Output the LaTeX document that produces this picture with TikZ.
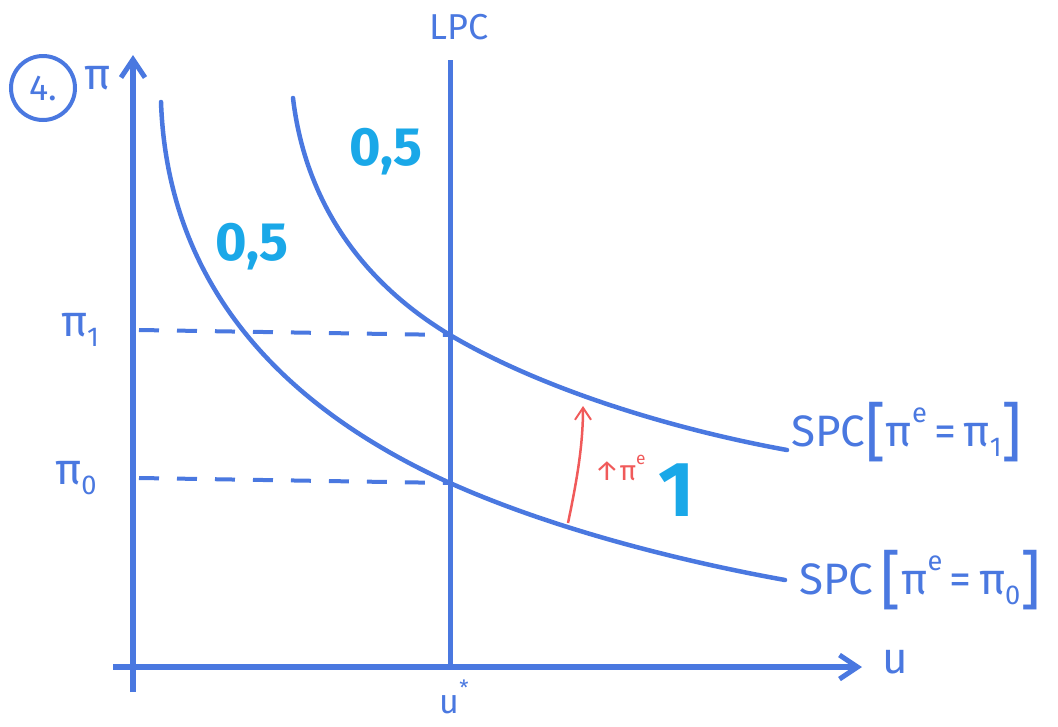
\documentclass[tikz,border=0pt]{standalone}
\usepackage{fontspec}
\setmainfont{Fira Sans}
\usepackage{xcolor}
\definecolor{pen}{HTML}{4A78E0}
\definecolor{marker}{HTML}{1AA8E8}
\definecolor{redpen}{HTML}{F05A5A}
\usepackage{tikz}
\usetikzlibrary{arrows.meta,positioning,calc}
\newcommand\lo[1]{\raisebox{-0.22em}{\scalebox{0.62}{#1}}}
\newcommand\hi[1]{\raisebox{0.55em}{\scalebox{0.62}{#1}}}
\newcommand\brk[1]{{\fontsize{64}{64}\selectfont\raisebox{-0.12em}{#1}}}

\begin{document}
\begin{tikzpicture}[
  x=1pt,y=-1pt,
  ax/.style={draw=pen,line width=6pt,-{Straight Barb[length=18pt,width=24pt,line width=5pt]}},
  crv/.style={draw=pen,line width=4.5pt,line cap=round},
  dsh/.style={draw=pen,line width=4pt,dash pattern=on 20pt off 18pt},
  lbl/.style={text=pen,font=\fontsize{44}{48}\selectfont,inner sep=1pt},
  num/.style={text=marker,font=\bfseries\fontsize{54}{58}\selectfont,inner sep=1pt},
  redarr/.style={draw=redpen,line width=2.5pt,-{Straight Barb[length=12pt,width=16pt,line width=2pt]}}
]
\useasboundingbox (0,0) rectangle (1058,726);
% axes
\coordinate (o) at (133,667);
\coordinate (ytop) at (133,55);
\coordinate (ybot) at (133,692);
\coordinate (xl) at (113,667);
\coordinate (xr) at (862,667);
\draw[ax] (ybot) -- (ytop);
\draw[ax] (xl) -- (xr);
\node[lbl] (ylab) at (98,78) {π};
\node[lbl,draw=pen,line width=4pt,circle,minimum size=64pt,inner sep=0pt,font=\fontsize{36}{40}\selectfont] (num4) at (43,88) {4.};
\node[lbl] (xlab) at (895,662) {u};
% long run curve
\coordinate (lpcbot) at (450,667);
\coordinate (lpctop) at (450,60);
\draw[draw=pen,line width=5pt] (lpcbot) -- (lpctop);
\node[lbl,font=\fontsize{36}{40}\selectfont] (lpc) at (459,27) {LPC};
\node[lbl,font=\fontsize{34}{38}\selectfont] (ustar) at (454,697) {u\hi{*}};
% expected inflation levels
\coordinate (p1) at (450,335);
\coordinate (p0) at (450,483);
\node[lbl] (pi1) at (80,330) {π\lo{1}};
\node[lbl] (pi0) at (76,478) {π\lo{0}};
\draw[dsh] (pi1.east -| o) ++(6,0) -- (p1);
\draw[dsh] (pi0.east -| o) ++(6,0) -- (p0);
% short run curves
\coordinate (a0) at (161,102);
\coordinate (a1) at (785,580);
\coordinate (b0) at (293,98);
\coordinate (b1) at (787,450);
\draw[crv] (a0) .. controls (168,300) and (300,415) .. (p0)
                .. controls (555,530) and (685,562) .. (a1);
\draw[crv] (b0) .. controls (305,200) and (360,281) .. (p1)
                .. controls (545,391) and (677,430) .. (b1);
\node[lbl,anchor=west] (spc1) at (790,432) {SPC\brk{[}π\hi{e}\,=\,π\lo{1}\brk{]}};
\node[lbl,anchor=west] (spc0) at (798,580) {SPC\,\brk{[}π\hi{e}\,=\,π\lo{0}\brk{]}};
% shift of expectations
\coordinate (s0) at (568,523);
\coordinate (s1) at (583,406);
\draw[redarr] (s0) .. controls (577,480) and (583,445) .. (s1);
\node[text=redpen,font=\fontsize{28}{30}\selectfont,inner sep=1pt] (up) at (620,468) {↑π\hi{e}};
\node[num,font=\bfseries\fontsize{78}{80}\selectfont] (one) at (677,490) {1};
\node[num] (h1) at (252,247) {0,5};
\node[num] (h2) at (386,152) {0,5};
\end{tikzpicture}
\end{document}
